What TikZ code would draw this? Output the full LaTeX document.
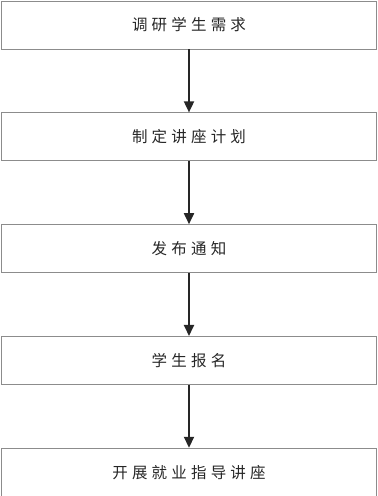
\documentclass[tikz,border=0pt]{standalone}
\usepackage{fontspec}
\newfontfamily\cjk[LetterSpace=27]{Noto Sans CJK SC}
\usetikzlibrary{positioning,arrows.meta}

\begin{document}
\begin{tikzpicture}[x=1pt, y=1pt,
  stepbox/.style={draw=black!45, line width=0.8pt, minimum width=375pt, minimum height=48pt,
    inner sep=0pt, text=black!85, font=\cjk\fontsize{15.5}{18}\selectfont},
  arrow/.style={-{Triangle[width=10pt,length=11pt]}, line width=1.8pt, draw=black!85}
]
\useasboundingbox (0,0) rectangle (378,496);
\node[stepbox] (survey) at (189,471) {调研学生需求};
\node[stepbox, below=63pt of survey] (plan) {制定讲座计划};
\node[stepbox, below=63pt of plan] (notice) {发布通知};
\node[stepbox, below=63pt of notice] (signup) {学生报名};
\node[stepbox, below=63pt of signup] (lecture) {开展就业指导讲座};
\draw[arrow] (survey) -- (plan);
\draw[arrow] (plan) -- (notice);
\draw[arrow] (notice) -- (signup);
\draw[arrow] (signup) -- (lecture);
\end{tikzpicture}
\end{document}
